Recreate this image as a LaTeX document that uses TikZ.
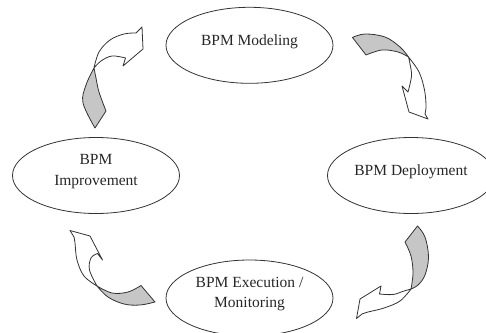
\documentclass[tikz,border=0pt]{standalone}
\usepackage{fontspec}
\setmainfont{Liberation Serif}
\usetikzlibrary{shapes.geometric}
\tikzset{
  phase/.style={ellipse, draw=black!80, line width=0.8pt, minimum width=167pt, minimum height=76pt, inner sep=0pt},
  phasetext/.style={align=center, text=black!85, font=\fontsize{15.5}{20.5}\selectfont},
  front/.style={draw=black!80, line width=0.8pt, fill=white, line join=round},
  back/.style={draw=black!80, line width=0.8pt, fill=gray!45, line join=round},
}
\begin{document}
\begin{tikzpicture}[x=1pt,y=-1pt]
    \useasboundingbox (0,0) rectangle (486,332);
    % the four phases
    \node[phase] (model) at (249.5,45.3) {};
    \node[phase] (deploy) at (411,175.5) {};
    \node[phase] (exec) at (249.5,298) {};
    \node[phase] (improve) at (96,175.5) {};
    \node[phasetext] (modeltxt) at ([yshift=4pt]model.center) {BPM Modeling};
    \node[phasetext] (deploytxt) at ([yshift=4pt]deploy.center) {BPM Deployment};
    \node[phasetext] (exectxt) at ([yshift=4pt]exec.center) {BPM Execution /\\Monitoring};
    \node[phasetext] (improvetxt) at ([yshift=4pt]improve.center) {BPM\\Improvement};
    % improvement -> modeling
    \draw[back] plot[smooth,tension=.6] coordinates {(94,68) (86,85) (83,103) (95,128)} -- (106,111) -- plot[smooth,tension=.6] coordinates {(106,111) (99,92) (96,78) (94,68)} -- cycle;
    \draw[front] plot[smooth,tension=.6] coordinates {(94,68) (99,52) (110,40) (124,34) (136,33)} -- (142,27) -- (143,49) -- (123,66) -- (125.5,58) -- plot[smooth,tension=.6] coordinates {(125.5,58) (112,56) (101,61) (94,68)} -- cycle;
    % modeling -> deployment
    \draw[back] plot[smooth,tension=.6] coordinates {(352.5,37.5) (365,34) (385,37) (400,47) (408.5,57)} -- plot[smooth,tension=.6] coordinates {(408.5,57) (398,52) (382,50) (366,55)} -- cycle;
    \draw[front] plot[smooth,tension=.6] coordinates {(408.5,57) (419,72) (424.5,90) (426,106) (425,114)} -- (428,119) -- (409,112) -- (402,86) -- (408,92) -- plot[smooth,tension=.6] coordinates {(408,92) (411.5,76) (410,64) (408.5,57)} -- cycle;
    % deployment -> execution
    \draw[back] plot[smooth,tension=.6] coordinates {(405,242) (411,256) (413,273) (411,289)} -- plot[smooth,tension=.6] coordinates {(411,289) (418,285) (425,275) (428.5,257) (425,237) (417.5,226)} -- cycle;
    \draw[front] plot[smooth,tension=.6] coordinates {(411,289) (400,301) (384,308) (368,312) (362,314)} -- (356.5,318.5) -- (360,299) -- (381,286) -- (379.5,294) -- plot[smooth,tension=.6] coordinates {(379.5,294) (393,294.5) (404,291) (411,289)} -- cycle;
    % execution -> improvement
    \draw[back] plot[smooth,tension=.6] coordinates {(97,286) (112,293) (128,292) (141,285.5)} -- (155,302) -- plot[smooth,tension=.6] coordinates {(155,302) (140,305) (124,304) (108,297) (97,286)} -- cycle;
    \draw[front] plot[smooth,tension=.6] coordinates {(97,286) (84,276) (77,260) (75,243) (74,237)} -- (70,230.5) -- (90,236) -- (102.5,260) -- (97.5,253.5) -- plot[smooth,tension=.6] coordinates {(97.5,253.5) (91,258) (89.5,270) (97,286)} -- cycle;
\end{tikzpicture}
\end{document}
